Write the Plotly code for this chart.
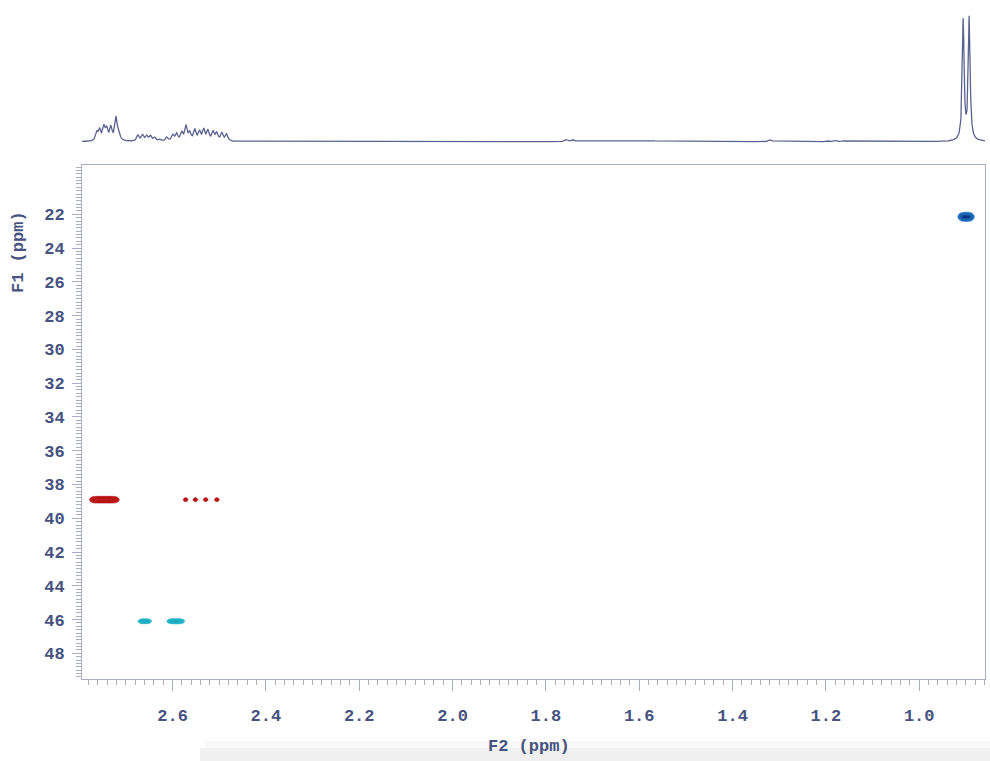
import numpy as np
import plotly.graph_objects as go

# ---------------- data ----------------
# 1D 1H trace: peak positions (ppm), heights (arb.), half widths (ppm)
H_PPM = [2.762, 2.756, 2.747, 2.741, 2.732, 2.721, 2.715,
         2.674, 2.664, 2.655, 2.647, 2.638, 2.627, 2.612,
         2.599, 2.591, 2.580, 2.571, 2.563, 2.552, 2.542, 2.533,
         2.524, 2.513, 2.505, 2.494, 2.484,
         1.756, 1.741, 1.570, 1.319, 1.195, 1.180, 1.163,
         0.9057, 0.8928]
H_INT = [8, 10, 13, 11, 13, 23, 6,
         6, 6, 5, 5, 3.5, 2, 4,
         6, 7, 8, 14, 8, 11, 9, 11,
         10, 9, 8, 8, 7,
         2, 2, 0.8, 2, 1.2, 1.2, 1.0,
         120, 123]
H_HW = [0.003] * 27 + [0.004, 0.004, 0.04, 0.004, 0.003, 0.003, 0.003,
                       0.0023, 0.0023]

# 2D cross peaks (F2 ppm, F1 ppm, F2 width, F1 width, amplitude)
RED_F2 = [2.768, 2.757, 2.746, 2.735, 2.724, 2.572, 2.551, 2.529, 2.505]
RED_F1 = [38.9] * 9
RED_W2 = [0.006] * 5 + [0.003] * 4
RED_W1 = [0.11] * 5 + [0.07] * 4
RED_A = [1.0] * 9

CYAN_F2 = [2.665, 2.654, 2.603, 2.593, 2.583]
CYAN_F1 = [46.1] * 5
CYAN_W2 = [0.0055] * 5
CYAN_W1 = [0.085] * 5
CYAN_A = [1.0] * 5

BLUE_F2 = [0.906, 0.893]
BLUE_F1 = [22.15, 22.15]
BLUE_W2 = [0.0065, 0.0065]
BLUE_W1 = [0.15, 0.15]
BLUE_A = [1.0, 1.0]

X_TICKS = [2.6, 2.4, 2.2, 2.0, 1.8, 1.6, 1.4, 1.2, 1.0]
Y_TICKS = list(range(22, 50, 2))

# ---------------- styling ----------------
TXT = "#46527f"
AXC = "#a7aec6"
LINEC = "#5a6390"
FONT = dict(family="Liberation Mono, Courier New, monospace", size=17,
            color=TXT, weight="bold")

fig = go.Figure()

# 1D spectrum (top)
xs = np.arange(0.859, 2.7941, 0.0004)
ys = np.zeros_like(xs)
for p, h, w in zip(H_PPM, H_INT, H_HW):
    ys += h * w**2 / ((xs - p) ** 2 + w**2)
fig.add_trace(go.Scatter(x=xs, y=ys, mode="lines", xaxis="x2", yaxis="y2",
                         line=dict(color=LINEC, width=1.3), hoverinfo="skip",
                         showlegend=False))


def peak_grid(f2, f1, w2, w1, amp, xr, yr, nx, ny):
    gx = np.linspace(xr[0], xr[1], nx)
    gy = np.linspace(yr[0], yr[1], ny)
    X, Y = np.meshgrid(gx, gy)
    Z = np.zeros_like(X)
    for a, b, c, d, e in zip(f2, f1, w2, w1, amp):
        Z += e * np.exp(-0.5 * ((X - a) / c) ** 2 - 0.5 * ((Y - b) / d) ** 2)
    Z = Z / Z.max()
    return gx, gy, Z


def add_contour(gx, gy, Z, light, dark, edge):
    fig.add_trace(go.Contour(
        x=gx, y=gy, z=Z, zmin=0, zmax=1, showscale=False, hoverinfo="skip",
        colorscale=[[0, "rgba(255,255,255,0)"], [0.12, "rgba(255,255,255,0)"],
                    [0.13, light], [1, dark]],
        contours=dict(start=0.2, end=0.9, size=0.2, coloring="fill", showlines=True),
        line=dict(width=0.7, color=edge),
    ))


gx, gy, Z = peak_grid(RED_F2, RED_F1, RED_W2, RED_W1, RED_A,
                      (2.49, 2.79), (38.4, 39.4), 400, 60)
add_contour(gx, gy, Z, "#d42424", "#c01a1a", "#b01515")
gx, gy, Z = peak_grid(CYAN_F2, CYAN_F1, CYAN_W2, CYAN_W1, CYAN_A,
                      (2.56, 2.69), (45.7, 46.5), 200, 50)
add_contour(gx, gy, Z, "#2cbccd", "#18a9bf", "#22b2c6")
gx, gy, Z = peak_grid(BLUE_F2, BLUE_F1, BLUE_W2, BLUE_W1, BLUE_A,
                      (0.87, 0.93), (21.5, 22.8), 120, 70)
add_contour(gx, gy, Z, "#2a84cf", "#0c3380", "#1c6fbf")

XR = [2.794, 0.859]
YR = [49.52, 19.08]

fig.update_layout(
    width=990, height=761,
    margin=dict(l=82, r=5, t=5, b=82),
    plot_bgcolor="white", paper_bgcolor="white",
    showlegend=False,
    xaxis=dict(range=XR, domain=[0, 1], anchor="y", tickvals=X_TICKS,
               ticktext=[f"{v:.1f}" for v in X_TICKS],
               ticks="outside", ticklen=11, tickwidth=1, tickcolor=AXC,
               minor=dict(dtick=0.02, tick0=0, ticks="outside", ticklen=5,
                          tickcolor=AXC, tickwidth=1),
               showline=True, linecolor=AXC, linewidth=1, mirror=True,
               showgrid=False, zeroline=False, tickfont=FONT,
               ticklabelstandoff=10, automargin=False),
    yaxis=dict(range=YR, domain=[0, 0.7626], anchor="x", tickvals=Y_TICKS,
               ticks="outside", ticklen=9, tickwidth=1, tickcolor=AXC,
               minor=dict(dtick=0.2, tick0=0, ticks="outside", ticklen=5,
                          tickcolor=AXC, tickwidth=1),
               showline=True, linecolor=AXC, linewidth=1, mirror=True,
               showgrid=False, zeroline=False, tickfont=FONT,
               ticklabelstandoff=4, automargin=False),
    xaxis2=dict(range=XR, domain=[0, 1], anchor="y2", visible=False,
                automargin=False),
    yaxis2=dict(range=[-4.8, 130], domain=[0.79, 0.99], anchor="x2",
                visible=False, automargin=False),
    annotations=[
        dict(text="F2 (ppm)", x=(529 - 82) / 903, y=(679 - 746.7) / 674,
             xref="paper", yref="paper", showarrow=False, font=FONT,
             xanchor="center", yanchor="middle"),
        dict(text="F1 (ppm)", x=(18 - 82) / 903, y=(679 - 252) / 674,
             xref="paper", yref="paper", showarrow=False, font=FONT,
             textangle=-90, xanchor="center", yanchor="middle"),
    ],
    shapes=[
        dict(type="rect", xref="paper", yref="paper", layer="below",
             x0=(205 - 82) / 903, x1=(995 - 82) / 903,
             y0=(679 - 748) / 674, y1=(679 - 741) / 674,
             fillcolor="#f8f8f8", line=dict(width=0)),
        dict(type="rect", xref="paper", yref="paper", layer="below",
             x0=(200 - 82) / 903, x1=(995 - 82) / 903,
             y0=(679 - 765) / 674, y1=(679 - 748) / 674,
             fillcolor="#f0f0f0", line=dict(width=0)),
    ],
)

fig.write_html("out.html", config={"displayModeBar": False},
               post_script="document.body.style.margin='0px';"
                           "document.body.style.overflow='hidden';")
